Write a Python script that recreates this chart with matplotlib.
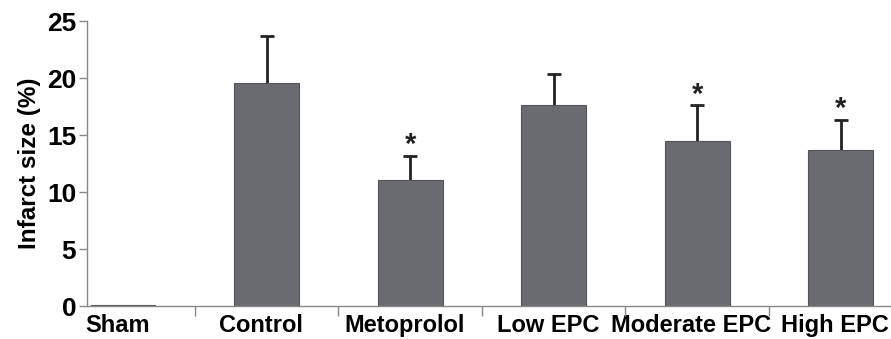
import numpy as np
import matplotlib
matplotlib.use("Agg")
from matplotlib import pyplot as plt

groups = ["Sham", "Control", "Metoprolol", "Low EPC", "Moderate EPC", "High EPC"]
infarct = np.array([0.1, 19.55, 11.1, 17.65, 14.45, 13.7])
sem = np.array([0.0, 4.1, 2.1, 2.7, 3.15, 2.65])
signif = [False, False, True, False, True, True]

plt.rcParams["font.family"] = ["Liberation Sans", "DejaVu Sans"]
plt.rcParams["font.weight"] = "bold"

fig = plt.figure(figsize=(8.91, 3.39), dpi=100)
ax = fig.add_axes([0.098, 0.097, 0.902, 0.841])

x = np.arange(len(groups))
bar_color = "#6a6b70"
ax.bar(x, infarct, width=0.45, color=bar_color, edgecolor="#555559", linewidth=0.8, zorder=2)
eb = ax.errorbar(x[1:], infarct[1:], yerr=[np.zeros(len(x) - 1), sem[1:]], fmt="none",
                 ecolor="#222222", elinewidth=2, capsize=5, capthick=2, zorder=1)
eb[1][0].set_visible(False)
for xi, yi, ei, s in zip(x, infarct, sem, signif):
    if s:
        ax.text(xi, yi + ei - 0.3, "*", ha="center", va="bottom", fontsize=21,
                fontweight="bold", color="#222222")

ax.set_xlim(-0.25, 5.35)
ax.set_ylim(0, 25)
ax.set_yticks([0, 5, 10, 15, 20, 25])
# labels sit a little left of the bar centres, as in the original figure
ax.set_xticks(x - 0.04)
ax.set_xticklabels(groups, fontsize=17, fontweight="bold")
ax.set_xticks(x[:-1] + 0.5, minor=True)
ax.tick_params(axis="x", which="major", length=0, pad=6)
ax.tick_params(axis="x", which="minor", length=7, direction="out", color="#888888", width=1)
ax.tick_params(axis="y", length=6, color="#888888", width=1, labelsize=19, pad=2)
for lab in ax.get_yticklabels():
    lab.set_fontweight("bold")
ax.set_ylabel("Infarct size (%)", fontsize=17.5, fontweight="bold", labelpad=4)

for side in ["top", "right"]:
    ax.spines[side].set_visible(False)
for side in ["left", "bottom"]:
    ax.spines[side].set_color("#888888")
    ax.spines[side].set_linewidth(1)

fig.savefig("out.png", dpi=100)
